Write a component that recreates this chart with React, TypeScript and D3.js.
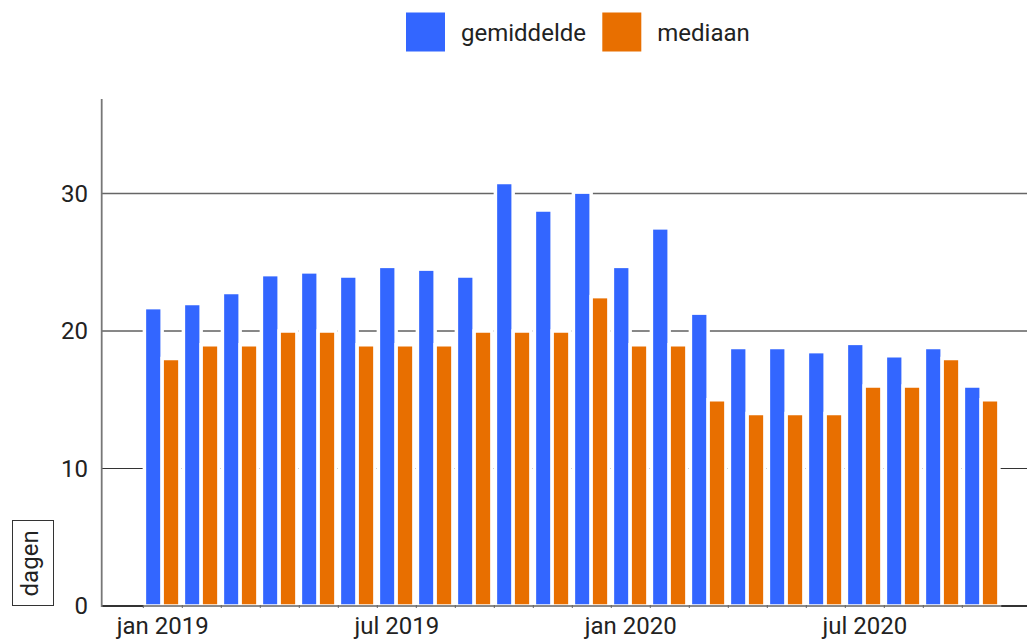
import * as d3 from 'd3';

const months = [
  'jan 2019', 'feb 2019', 'mrt 2019', 'apr 2019', 'mei 2019', 'jun 2019',
  'jul 2019', 'aug 2019', 'sep 2019', 'okt 2019', 'nov 2019', 'dec 2019',
  'jan 2020', 'feb 2020', 'mrt 2020', 'apr 2020', 'mei 2020', 'jun 2020',
  'jul 2020', 'aug 2020', 'sep 2020', 'okt 2020',
];
const gemiddelde = [
  21.7, 22.0, 22.8, 24.1, 24.3, 24.0, 24.7, 24.5, 24.0, 30.8, 28.8, 30.1,
  24.7, 27.5, 21.3, 18.8, 18.8, 18.5, 19.1, 18.2, 18.8, 16.0,
];
const mediaan = [
  18, 19, 19, 20, 20, 19, 19, 19, 20, 20, 20, 22.5,
  19, 19, 15, 14, 14, 14, 16, 16, 18, 15,
];
const tickMonths = ['jan 2019', 'jul 2019', 'jan 2020', 'jul 2020'];
const yTicks = [0, 10, 20, 30];
const seriesNames = ['gemiddelde', 'mediaan'];
const colors = ['#3366ff', '#e86f00'];

const W = 1027;
const H = 640;
const FONT = 'Roboto, sans-serif';

export default function App() {
  const x = d3.scaleBand<string>().domain(months).range([143.3, 1001.3]);
  const inner = d3.scaleBand<string>().domain(seriesNames).range([1.1, 36.6]);
  const y = d3.scaleLinear().domain([0, 37]).range([606, 97.25]);
  const gridColor = (v: number) => (v === 30 ? '#666' : v === 20 ? '#111' : '#333');

  return (
    <div style={{ position: 'absolute', left: 0, top: 0 }}>
      <svg width={W} height={H} style={{ display: 'block', fontFamily: FONT }}>
        <rect width={W} height={H} fill="#fff" />

        {/* legend */}
        {seriesNames.map((s, i) => {
          const lx = [406, 602.3][i];
          return (
            <g key={s}>
              <rect x={lx} y={12.5} width={39} height={39} fill={colors[i]} />
              <text x={lx + 55} y={41} fontSize={24} fill="#222">{s}</text>
            </g>
          );
        })}

        {/* gridlines */}
        {yTicks.filter(v => v > 0).map(v => (
          <line key={v} x1={102} x2={W} y1={y(v)} y2={y(v)} stroke={gridColor(v)}
            strokeWidth={v === 30 ? 1.5 : 1} />
        ))}

        {/* bars */}
        {months.map((m, i) => (
          <g key={m} transform={`translate(${x(m)},0)`}>
            {[gemiddelde[i], mediaan[i]].map((v, j) => (
              <rect key={j} x={inner(seriesNames[j])} width={inner.bandwidth()}
                y={y(v)} height={y(0) - y(v)} fill={colors[j]}
                stroke="#fff" strokeWidth={3.5} />
            ))}
          </g>
        ))}

        {/* zero line and x axis */}
        <line x1={102} x2={W} y1={606} y2={606} stroke="#333" strokeWidth={2} />
        <line x1={x.range()[0]} x2={x.range()[1]} y1={606} y2={606} stroke="#8a8a8a" strokeWidth={2} />
        {months.map(m => (
          <line key={m} x1={x(m)} x2={x(m)} y1={605} y2={608} stroke="#666" strokeWidth={1} />
        ))}

        {/* y axis */}
        <line x1={101.7} x2={101.7} y1={99} y2={607} stroke="#777" strokeWidth={1.8} />
        {yTicks.map(v => (
          <text key={v} x={88} y={y(v)} dy="0.35em" textAnchor="end" fontSize={24} fill="#222">{v}</text>
        ))}

        {/* x tick labels */}
        {tickMonths.map(m => (
          <text key={m} x={(x(m) ?? 0) + x.bandwidth() / 2} y={634} textAnchor="middle"
            fontSize={24} fill="#222">{m}</text>
        ))}

        {/* y axis title */}
        <rect x={12.5} y={520.5} width={41} height={85} fill="none" stroke="#333" strokeWidth={1} />
        <text transform={`translate(38,563.4) rotate(-90)`} textAnchor="middle" fontSize={24} fill="#222">dagen</text>
      </svg>
    </div>
  );
}
